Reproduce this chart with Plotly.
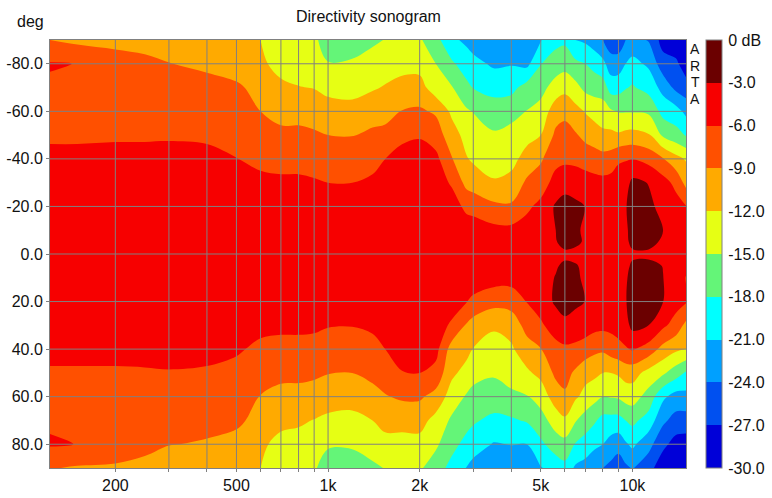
import plotly.graph_objects as go
import numpy as np

freqs = [122,150,200,250,300,400,500,600,700,800,900,1000,1200,1400,1540,1750,2000,2260,2550,2850,3000,3500,4000,4500,5000,5600,6000,6500,7000,7500,8000,8500,9000,9500,10000,11300,12600,13900,15000]
angles = [-90,-80,-70,-60,-50,-40,-30,-20,-10,-5,0,5,10,20,30,40,50,60,70,80,90]

# level in dB for each frequency column, listed from -90 to +90 degrees in 10 degree steps
levels_by_freq = [
[-9.0,-5.8,-6.4,-6.6,-6.3,-5.5,-5,-5,-5,-5,-5,-5,-5,-5.5,-6.2,-6.6,-6.4,-5.7,-8.8],
[-9.7,-6.05,-6.5,-6.7,-6.3,-5.5,-5,-5,-5,-5,-5,-5,-5,-5.5,-6.2,-6.7,-6.5,-6.05,-9.3],
[-10.5,-6.7,-6.6,-6.5,-6.25,-5.4,-5,-5,-5,-5,-5,-5,-5,-5.5,-6.2,-6.6,-6.7,-6.9,-9.5],
[-11.4,-7.4,-6.9,-6.6,-6.2,-5.5,-5,-5,-5,-5,-5,-5,-5,-5.5,-6.15,-6.6,-6.9,-7.5,-10.5],
[-11.4,-8.9,-7.6,-6.9,-6.2,-5.4,-5,-5,-5,-5,-5,-5,-5,-5.4,-6.1,-6.8,-7.5,-8.85,-11.5],
[-11.5,-9.6,-8,-7,-6.3,-5.5,-5,-5,-5,-5,-5,-5,-5,-5.5,-6.2,-7,-7.9,-9.35,-11.5],
[-11.8,-10.5,-8.5,-7.6,-6.8,-5.95,-5,-5,-5,-5,-5,-5,-5,-5.7,-6.7,-7.4,-8.4,-10,-11.7],
[-12,-11.5,-10,-9,-7.9,-6.5,-5.5,-5,-5,-5,-5,-5,-5.4,-6.5,-7.9,-9.1,-10,-11.5,-12],
[-13.5,-12.9,-11.45,-10,-8.3,-6.9,-5.5,-5,-5,-5,-5,-5,-5.4,-6.9,-8.4,-9.7,-11.3,-12.8,-13.5],
[-14,-13.2,-11.9,-10,-8.3,-6.9,-5.5,-5,-5,-5,-5,-5,-5.4,-6.9,-8.4,-9.8,-11.6,-13,-14],
[-14.6,-13.5,-12.1,-10.3,-8.6,-7.2,-5.7,-5,-5,-5,-5,-5,-5.5,-7,-8.5,-10.2,-12.1,-13.5,-14.7],
[-16,-14.9,-12.9,-10.6,-9,-7.5,-6,-4.8,-4.6,-4.6,-4.6,-4.8,-5.85,-7.4,-8.9,-10.7,-12.6,-14.7,-16.2],
[-16.5,-14.6,-13,-11,-9.1,-7.6,-6,-4.8,-4.6,-4.6,-4.6,-4.8,-5.9,-7.5,-9,-10.9,-12.8,-14.6,-16.5],
[-15.5,-13.8,-12.3,-10.3,-8.4,-6.9,-5.5,-4.8,-4.6,-4.6,-4.6,-4.8,-5.5,-6.9,-8.3,-9.9,-12,-13.8,-15.5],
[-14.9,-13.2,-11.8,-10,-8.2,-6,-5,-4.6,-4.5,-4.5,-4.5,-4.6,-5,-6,-7.6,-9.2,-11,-13,-14.9],
[-14,-13,-11,-8.9,-6.5,-5.2,-4.8,-4.5,-4.4,-4.4,-4.4,-4.5,-4.8,-5,-6.1,-8.6,-11,-13,-14.3],
[-14.6,-13.1,-10.8,-8.6,-6.2,-5,-4.6,-4.4,-4.3,-4.3,-4.3,-4.4,-4.6,-5,-6,-8.6,-10.9,-13,-14.6],
[-17,-15,-13.7,-9.4,-7.5,-5.2,-4.8,-4.5,-4.3,-4.3,-4.3,-4.5,-4.8,-5,-7,-10,-13,-14.5,-16.5],
[-20.4,-17.5,-14.8,-12.6,-10.7,-8.8,-6.3,-4.8,-4.4,-4.3,-4.4,-4.8,-6.4,-10.3,-11.4,-13.4,-15.5,-17,-19],
[-21.6,-19.5,-17.2,-14.6,-13,-11.8,-9.9,-6.6,-4.7,-4.3,-4.5,-5.9,-9.3,-11.1,-13,-15.3,-16.9,-19,-21.1],
[-22.5,-20,-18.1,-15.1,-13.7,-12.4,-10.4,-7,-4.6,-4.3,-4.5,-6.6,-10.3,-12.1,-13.9,-16,-17.6,-19.6,-22],
[-23.5,-21.5,-18.9,-16.7,-14.6,-12.9,-11.8,-8.3,-5.2,-4.2,-4.7,-8,-11.5,-13.4,-14.7,-16.2,-18.8,-21.2,-23.5],
[-23.2,-21.2,-18.9,-16,-14,-13,-11,-8.6,-5.2,-4.3,-4.9,-7.7,-10.9,-12.4,-13.8,-15.6,-18.4,-20.9,-23],
[-22.8,-21.8,-16.8,-14.9,-13,-10.8,-8.5,-6.5,-4.9,-4.2,-4.4,-5.9,-7.9,-10.3,-12.5,-15.2,-17.7,-21,-22.8],
[-21.1,-18.1,-16,-13.9,-12,-9.4,-7.3,-5.3,-4.3,-3.8,-3.8,-4.8,-6.4,-9.1,-11.2,-13.7,-16.2,-18.6,-21.2],
[-18.9,-16.6,-13.7,-10.3,-8.4,-6.8,-5,-2.6,-3,-3.6,-2.9,-2.5,-4.7,-6.9,-8.4,-10.5,-13.6,-16.5,-19.8],
[-18.6,-16.1,-12.9,-9.7,-8,-6.7,-3.9,-2.1,-2,-3.5,-2.1,-2.2,-3.5,-6.6,-8,-9.5,-12.5,-16,-18.9],
[-21,-17.3,-14.1,-11,-8.7,-6.7,-4.4,-2.4,-2.5,-3.7,-2.6,-2.4,-4.3,-6.7,-9.5,-11.6,-14.8,-18.2,-21.5],
[-21.5,-18,-15.8,-12.2,-9.8,-7.3,-4.6,-3.05,-3.5,-4.3,-3.4,-3.05,-4.6,-7.3,-11.1,-12.8,-16.4,-19.2,-22.2],
[-22.6,-19,-16.2,-13.2,-10.4,-7.7,-5,-3.8,-4,-4.7,-4,-3.8,-5,-8.3,-11.3,-14,-17.6,-20.3,-23.3],
[-24,-20.2,-16.5,-13.5,-11.4,-7.9,-5.2,-4.2,-4.3,-5,-4.3,-4.2,-5.2,-8.5,-12,-15,-19,-21,-24],
[-25.8,-22.6,-19.3,-14.6,-11.2,-7.7,-4.9,-4,-4.3,-5,-4.5,-4.2,-5.2,-7.5,-12,-14.8,-19,-22.2,-24.8],
[-25.8,-22.6,-19.1,-15.2,-11.6,-6.4,-4.6,-3.7,-3.9,-4.6,-3.9,-3.9,-4.8,-6.9,-11.6,-14.6,-19,-22.8,-25.8],
[-24,-21,-18.2,-15.2,-11.2,-6.2,-4.2,-3.1,-3.4,-4,-3.3,-3.1,-4,-6.3,-10.8,-13.8,-18,-21.4,-24.6],
[-23,-20.1,-17.7,-15.2,-11,-6.05,-2.3,-2.4,-2.2,-3.5,-2.2,-2.3,-2.2,-5.7,-10.8,-13.6,-17.3,-20.4,-23.8],
[-24.2,-21.5,-19.1,-15.5,-11.7,-7,-3.1,-2.4,-2.1,-3.5,-2.1,-2.4,-3,-7.2,-13,-16.2,-19.2,-23,-25.8],
[-28.2,-25.7,-22,-19,-15.5,-8.8,-4.8,-3.8,-2.95,-3.5,-2.95,-2.95,-5.4,-10,-14.5,-20.4,-23.4,-26.2,-29],
[-29,-26.4,-24.8,-19.8,-16.9,-11,-6.8,-4.8,-4.2,-4.2,-4.4,-4.9,-7.2,-11.4,-16.6,-22.2,-25.1,-28.2,-29.5],
[-30,-28.6,-25.8,-21.8,-18.2,-12.3,-9.9,-5.9,-5.2,-5.1,-6.1,-5.7,-9.8,-12,-18.4,-21.9,-25.3,-28.4,-30],
]

# extra rows close to the axis, one value per frequency column
levels_minus5 = [-5,-5,-5,-5,-5,-5,-5,-5,-5,-5,-5,-4.6,-4.6,-4.6,-4.5,-4.4,-4.3,-4.3,-4.3,-4.4,-4.4,-4.6,-4.7,-4.5,-4,-3.15,-2.2,-2.5,-3.3,-4.3,-4.6,-4.6,-4.2,-3.6,-2.3,-2.2,-3.4,-4.2,-5.1]
levels_plus5 = [-5,-5,-5,-5,-5,-5,-5,-5,-5,-5,-5,-4.6,-4.6,-4.6,-4.5,-4.4,-4.3,-4.3,-4.3,-4.4,-4.4,-4.5,-4.6,-4.3,-3.8,-3.2,-2.6,-2.8,-3.5,-4.3,-4.6,-4.7,-4.2,-3.6,-2.6,-2.4,-3.05,-4.3,-5.5]

band_colors = ["#0000d8","#0050f0","#00a0ff","#00ffff","#64f578","#e6ff14","#ffaa00","#ff5000","#f70000","#6b0000"]
freq_ticks = [200,300,400,500,600,700,800,900,1000,2000,3000,4000,5000,6000,7000,8000,9000,10000]
freq_labels = ["200","","","500","","","","","1k","2k","","","5k","","","","","10k"]
angle_ticks = [-80,-60,-40,-20,0,20,40,60,80]
angle_labels = ["-80.0","-60.0","-40.0","-20.0","0.0","20.0","40.0","60.0","80.0"]
scale_ticks = [0,-3,-6,-9,-12,-15,-18,-21,-24,-27,-30]
scale_labels = ["0 dB","-3.0","-6.0","-9.0","-12.0","-15.0","-18.0","-21.0","-24.0","-27.0","-30.0"]
stamp_letters = ["A","R","T","A"]

FONT = "Liberation Sans"
GRID = "#808080"
INK = "#111111"

z = []
for column, m5, p5 in zip(levels_by_freq, levels_minus5, levels_plus5):
    z.append(column[:9] + [m5, column[9], p5] + column[10:])
z = np.array(z).T

scale = []
n = len(band_colors)
for i, c in enumerate(band_colors):
    scale += [[i / n, c], [(i + 1) / n, c]]

fig = go.Figure()
fig.add_trace(go.Contour(
    x=freqs, y=angles, z=z, zmin=-30, zmax=0, colorscale=scale,
    contours=dict(start=-30, end=0, size=3, coloring="fill", showlines=False),
    line=dict(width=0), hoverinfo="skip",
    colorbar=dict(
        x=1.0314, xanchor="left", xpad=0, y=0.5, yanchor="middle", ypad=0,
        len=1, lenmode="fraction", thickness=16, thicknessmode="pixels",
        outlinecolor=GRID, outlinewidth=1, borderwidth=0,
        tickmode="array", tickvals=scale_ticks, ticktext=scale_labels,
        ticks="outside", ticklen=3, tickcolor="rgba(0,0,0,0)",
        tickfont=dict(family=FONT, size=16, color=INK),
    ),
))

# grid drawn over the filled map, as in the reference
vx, vy = [], []
for f in freq_ticks:
    vx += [f, f, None]
    vy += [-90, 90, None]
hx, hy = [], []
for a in angle_ticks:
    hx += [freqs[0], freqs[-1], None]
    hy += [a, a, None]
fig.add_trace(go.Scatter(x=vx + hx, y=vy + hy, mode="lines",
                         line=dict(color=GRID, width=1), hoverinfo="skip", showlegend=False))

fig.update_xaxes(type="log", range=[np.log10(freqs[0]), np.log10(freqs[-1])],
                 tickmode="array", tickvals=freq_ticks, ticktext=freq_labels,
                 ticks="outside", ticklen=3, tickcolor=GRID, showgrid=False, zeroline=False,
                 showline=True, linecolor=GRID, linewidth=1, mirror=True,
                 tickfont=dict(family=FONT, size=16, color=INK))
fig.update_yaxes(range=[90, -90], tickmode="array", tickvals=angle_ticks, ticktext=angle_labels,
                 ticks="outside", ticklen=3, tickcolor=GRID, showgrid=False, zeroline=False,
                 showline=True, linecolor=GRID, linewidth=1, mirror=True,
                 tickfont=dict(family=FONT, size=16, color=INK))

annotations = [
    dict(text="Directivity sonogram", x=368, y=498 - 17, font=dict(size=16)),
    dict(text="deg", x=30, y=498 - 22, font=dict(size=16)),
]
for letter, py in zip(stamp_letters, [49, 65.5, 82, 98.5]):
    annotations.append(dict(text=letter, x=695, y=498 - py, font=dict(size=14)))
for a in annotations:
    a.update(xref="paper", yref="paper", showarrow=False, xanchor="center", yanchor="middle")
    a["x"] = (a["x"] - 50) / 636
    a["y"] = (a["y"] - 30) / 428
    a["font"].update(family=FONT, color=INK)

fig.update_layout(width=772, height=498, autosize=False, showlegend=False,
                  margin=dict(l=50, r=86, t=40, b=30, pad=0, autoexpand=False),
                  paper_bgcolor="white", plot_bgcolor="white",
                  annotations=annotations)
fig.write_html("out.html", post_script="document.body.style.margin='0';",
               config={"displayModeBar": False})
